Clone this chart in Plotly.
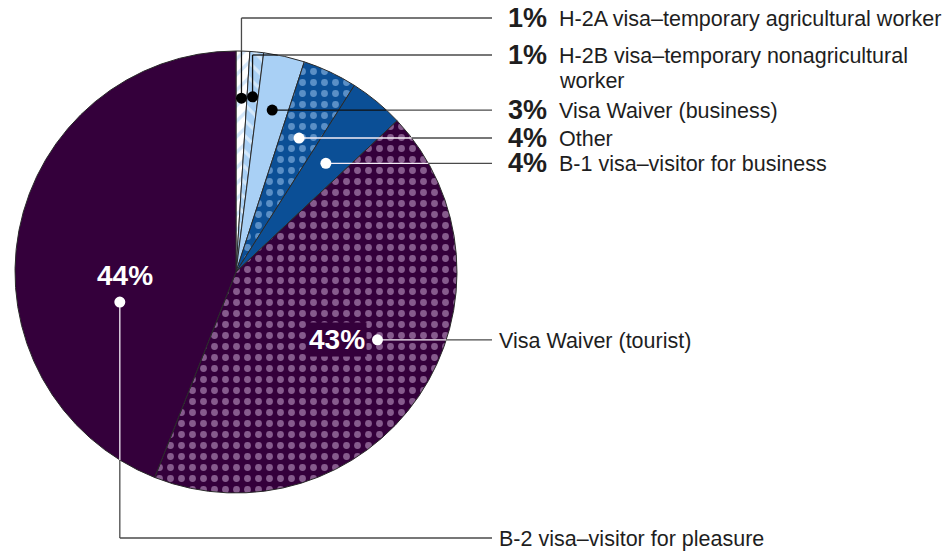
import math
import plotly.graph_objects as go

# ---------------- data ----------------
categories = [
    "H-2A visa–temporary agricultural worker",
    "H-2B visa–temporary nonagricultural worker",
    "Visa Waiver (business)",
    "Other",
    "B-1 visa–visitor for business",
    "Visa Waiver (tourist)",
    "B-2 visa–visitor for pleasure",
]
values = [1, 1, 3, 4, 4, 43, 44]
pct_labels = ["1%", "1%", "3%", "4%", "4%", "43%", "44%"]
label_lines = [
    ["H-2A visa–temporary agricultural worker"],
    ["H-2B visa–temporary nonagricultural", "worker"],
    ["Visa Waiver (business)"],
    ["Other"],
    ["B-1 visa–visitor for business"],
    ["Visa Waiver (tourist)"],
    ["B-2 visa–visitor for pleasure"],
]

# ---------------- style / layout ----------------
W, H = 952, 551
CX, CY, R = 236, 272, 221

PURPLE = "#34003b"
PINK = "#d8b6e0"
BLUE = "#0b4f96"
LBLUE = "#a9d0f5"
fill_colors = ["#ffffff", LBLUE, LBLUE, BLUE, BLUE, PURPLE, PURPLE]
pattern_shapes = ["/", "\\", "", ".", "", ".", ""]
pattern_fg = [LBLUE, "#ffffff", LBLUE, LBLUE, BLUE, PINK, PURPLE]
dark_slice = [False, False, False, True, True, True, True]

# leader anchor placement (relative to slice mid-angle)
angle_offset = [0, 0, 0, 0, 0, -8.6, -25.3]
radius_frac = [0.787, 0.796, 0.751, 0.670, 0.638, 0.71, 0.543]
row_y = [18, 55, None, None, None, None, 538]   # None -> same as anchor
LINE_END_X = 492
PCT_X = 506
TXT_X = 557
TXT_X_PLAIN = 497
FONT = "Liberation Sans, Arial, sans-serif"
TEXT_COLOR = "#1e1e1e"
LABEL_SIZE = 21.5
PCT_SIZE = 27


def px(x):
    return x / W


def py(y):
    return 1 - y / H


fig = go.Figure()
fig.add_trace(go.Pie(
    labels=categories,
    values=values,
    sort=False,
    direction="clockwise",
    rotation=0,
    textinfo="none",
    hoverinfo="label+percent",
    showlegend=False,
    domain=dict(x=[(CX - R) / W, (CX + R) / W], y=[(H - CY - R) / H, (H - CY + R) / H]),
    marker=dict(
        colors=fill_colors,
        line=dict(color="#2a2a2a", width=1),
        pattern=dict(
            shape=pattern_shapes,
            fgcolor=pattern_fg,
            bgcolor=fill_colors,
            size=11,
            solidity=0.3,
            fillmode="overlay",
        ),
    ),
))

shapes = []
annotations = []


def split_segment(p0, p1):
    """return (inside_part, outside_parts) of segment w.r.t. pie circle"""
    dx, dy = p1[0] - p0[0], p1[1] - p0[1]
    fx, fy = p0[0] - CX, p0[1] - CY
    a = dx * dx + dy * dy
    if a == 0:
        return None, []
    b = 2 * (fx * dx + fy * dy)
    c = fx * fx + fy * fy - R * R
    disc = b * b - 4 * a * c
    pt = lambda t: (p0[0] + t * dx, p0[1] + t * dy)
    if disc <= 0:
        return None, [(p0, p1)]
    s = math.sqrt(disc)
    t1, t2 = (-b - s) / (2 * a), (-b + s) / (2 * a)
    lo, hi = max(0, t1), min(1, t2)
    if lo >= hi:
        return None, [(p0, p1)]
    inside = (pt(lo), pt(hi))
    outside = []
    if lo > 0:
        outside.append((p0, pt(lo)))
    if hi < 1:
        outside.append((pt(hi), p1))
    return inside, outside


def line(p0, p1, color, width=1.3):
    shapes.append(dict(type="line", xref="paper", yref="paper",
                       x0=px(p0[0]), y0=py(p0[1]), x1=px(p1[0]), y1=py(p1[1]),
                       line=dict(color=color, width=width), layer="above"))


total = sum(values)
cum = 0
for i, v in enumerate(values):
    mid = (cum + v / 2) / total * 360
    cum += v
    ang = math.radians(mid + angle_offset[i])
    r = radius_frac[i] * R
    dxp = CX + r * math.sin(ang)
    dyp = CY - r * math.cos(ang)
    ry = row_y[i] if row_y[i] is not None else dyp

    inner_col = "#f4ecf6" if dark_slice[i] else "#111111"
    outer_col = "#4a4a4a"
    segs = []
    if abs(ry - dyp) > 0.5:
        segs.append(((dxp, dyp), (dxp, ry)))
    segs.append(((dxp, ry), (LINE_END_X, ry)))
    for s0, s1 in segs:
        ins, outs = split_segment(s0, s1)
        if ins:
            line(ins[0], ins[1], inner_col)
        for o in outs:
            line(o[0], o[1], outer_col)

    # anchor dot
    dot_col = "#ffffff" if dark_slice[i] else "#000000"
    rr = 5.5
    shapes.append(dict(type="circle", xref="paper", yref="paper",
                       x0=px(dxp - rr), x1=px(dxp + rr), y0=py(dyp - rr), y1=py(dyp + rr),
                       fillcolor=dot_col, line=dict(color=dot_col, width=0), layer="above"))

    if i < 5:
        annotations.append(dict(x=px(PCT_X), y=py(ry), xref="paper", yref="paper",
                                xanchor="left", yanchor="middle", showarrow=False,
                                text="<b>" + pct_labels[i] + "</b>",
                                font=dict(family=FONT, size=PCT_SIZE, color=TEXT_COLOR)))
        for k, t in enumerate(label_lines[i]):
            annotations.append(dict(x=px(TXT_X), y=py(ry + 25 * k + 1), xref="paper", yref="paper",
                                    xanchor="left", yanchor="middle", showarrow=False,
                                    text=t, font=dict(family=FONT, size=LABEL_SIZE, color=TEXT_COLOR)))
    else:
        for k, t in enumerate(label_lines[i]):
            annotations.append(dict(x=px(TXT_X_PLAIN), y=py(ry + 25 * k + 1), xref="paper", yref="paper",
                                    xanchor="left", yanchor="middle", showarrow=False,
                                    text=t, font=dict(family=FONT, size=LABEL_SIZE, color=TEXT_COLOR)))
        if i == 5:
            annotations.append(dict(x=px(dxp - 11), y=py(dyp), xref="paper", yref="paper",
                                    xanchor="right", yanchor="middle", showarrow=False,
                                    text="<b>" + pct_labels[i] + "</b>", bgcolor=PURPLE, borderpad=1,
                                    font=dict(family=FONT, size=28, color="#ffffff")))
        else:
            annotations.append(dict(x=px(dxp + 5), y=py(dyp - 27), xref="paper", yref="paper",
                                    xanchor="center", yanchor="middle", showarrow=False,
                                    text="<b>" + pct_labels[i] + "</b>",
                                    font=dict(family=FONT, size=28, color="#ffffff")))

fig.update_layout(
    width=W, height=H,
    margin=dict(l=0, r=0, t=0, b=0),
    paper_bgcolor="#ffffff",
    plot_bgcolor="#ffffff",
    shapes=shapes,
    annotations=annotations,
)

fig.write_html(
    "out.html",
    config={"displayModeBar": False},
    post_script="document.body.style.margin='0';document.body.style.padding='0';document.body.style.overflow='hidden';",
)
